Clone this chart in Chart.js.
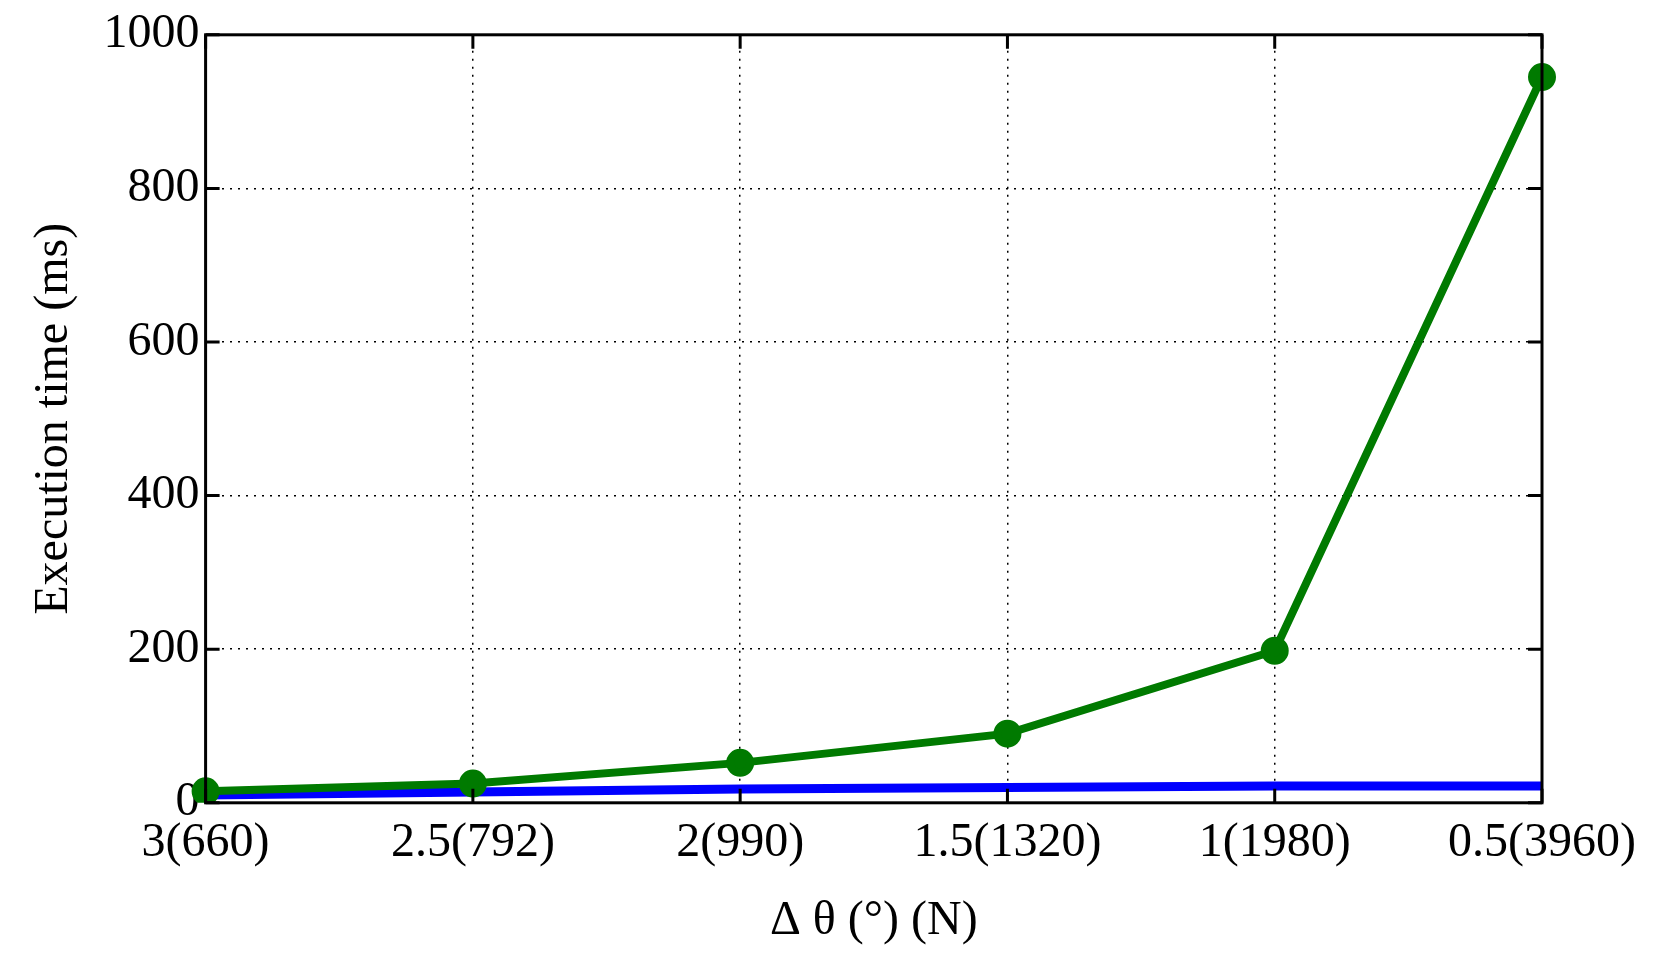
<!DOCTYPE html>
<html><head><meta charset="utf-8">
<script src="https://cdn.jsdelivr.net/npm/chart.js@4"></script>
<style>html,body{margin:0;padding:0;background:#fff}#w{width:1670px;height:970px}</style>
</head><body><div id="w"><canvas id="c"></canvas></div>
<script>
const categories = ["3(660)","2.5(792)","2(990)","1.5(1320)","1(1980)","0.5(3960)"];
const greenSeries = [15, 25, 52, 90, 198, 945];
const blueSeries = [10, 14, 18, 20, 22, 22];
const yTicks = [0,200,400,600,800,1000];

const frame = {
  id:'frame',
  afterDatasetsDraw(ch){
    const a=ch.chartArea, x=ch.ctx;
    x.save(); x.strokeStyle='#000'; x.lineWidth=3;
    x.strokeRect(a.left,a.top,a.right-a.left,a.bottom-a.top);
    ch.scales.x.ticks.forEach((t,i)=>{const p=ch.scales.x.getPixelForTick(i);
      x.beginPath();x.moveTo(p,a.bottom);x.lineTo(p,a.bottom-14);x.moveTo(p,a.top);x.lineTo(p,a.top+14);x.stroke();});
    ch.scales.y.ticks.forEach((t,i)=>{const p=ch.scales.y.getPixelForTick(i);
      x.beginPath();x.moveTo(a.left,p);x.lineTo(a.left+14,p);x.moveTo(a.right,p);x.lineTo(a.right-14,p);x.stroke();});
    x.restore();
  }
};
const font = {family:'"Liberation Serif", "DejaVu Serif", serif', size:48};
new Chart(document.getElementById('c'),{
  type:'line',
  data:{labels:categories,datasets:[
    {data:blueSeries,borderColor:'#0000ff',borderWidth:9,pointRadius:0,tension:0,order:2},
    {data:greenSeries,borderColor:'#007a00',backgroundColor:'#007a00',borderWidth:8,pointRadius:10,pointStyle:'circle',tension:0,order:1}
  ]},
  options:{responsive:true,maintainAspectRatio:false,animation:false,
    layout:{padding:{top:24,right:128,bottom:16,left:22}},
    plugins:{legend:{display:false},tooltip:{enabled:false}},
    scales:{
      x:{offset:false,grid:{color:'#000',lineWidth:1.5,drawTicks:false},border:{display:false,dash:[2,6]},
        ticks:{font,color:'#000',padding:12,maxRotation:0,autoSkip:false},
        title:{display:true,text:'Δ θ (°) (N)',font,color:'#000',padding:{top:8}}},
      y:{min:0,max:1000,grid:{color:'#000',lineWidth:1.5,drawTicks:false},border:{display:false,dash:[2,6]},
        afterBuildTicks(s){s.ticks=yTicks.map(v=>({value:v}));},
        ticks:{font,color:'#000',padding:6,callback:v=>String(v)},
        title:{display:true,text:'Execution time (ms)',font,color:'#000',padding:{bottom:14}}}
    }},
  plugins:[frame]
});
</script></body></html>
